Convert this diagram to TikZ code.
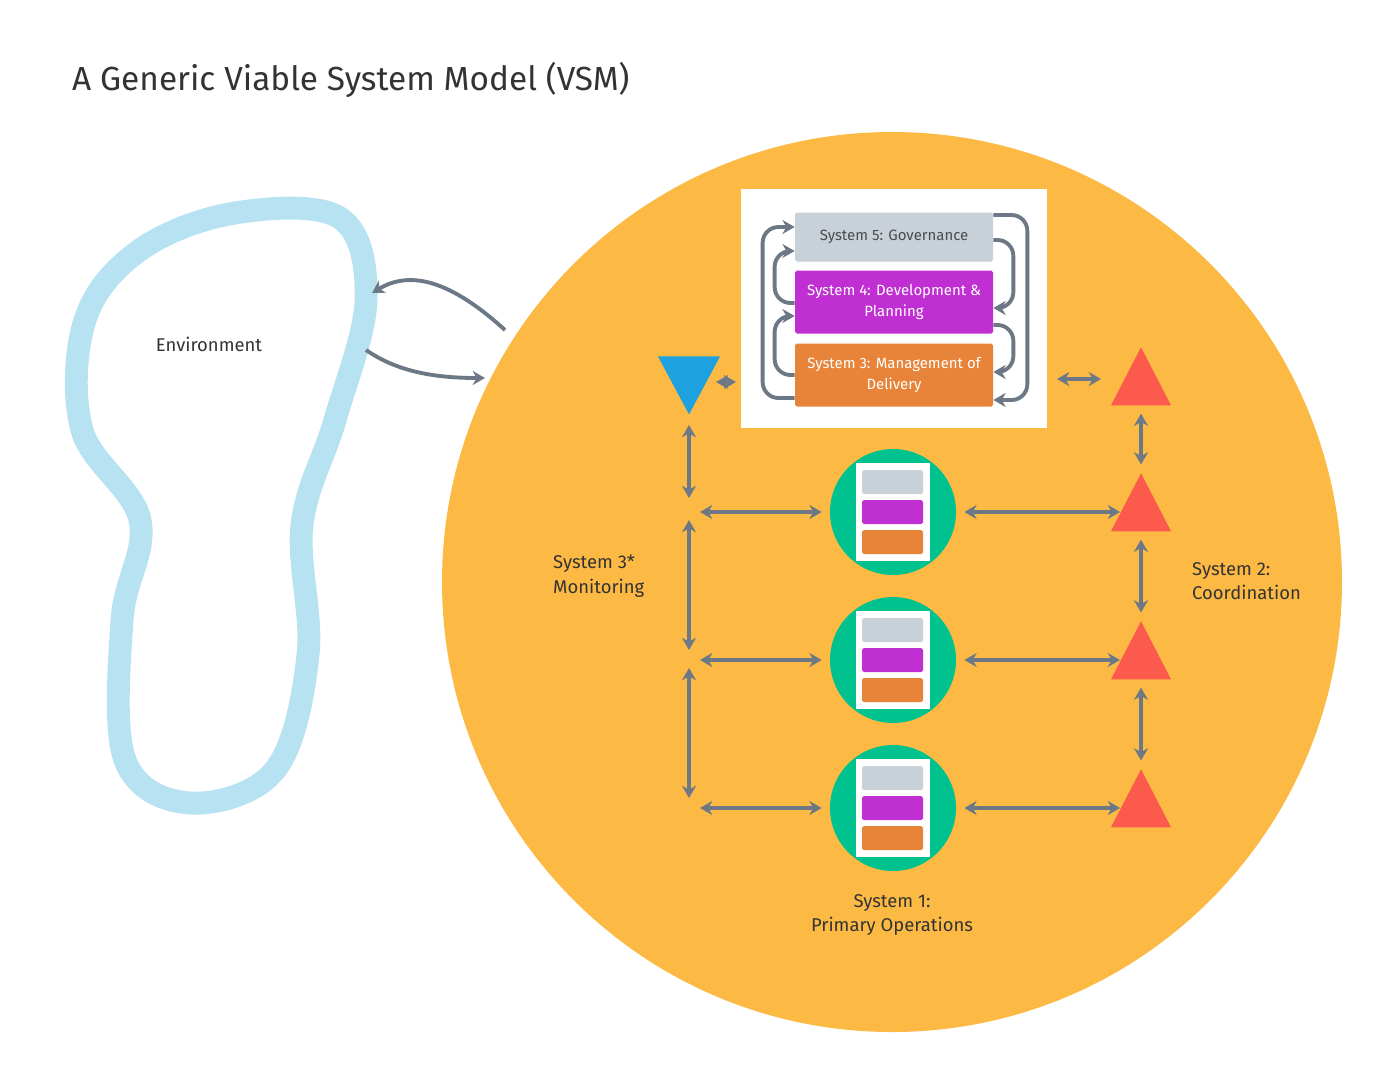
\documentclass[tikz,border=0pt]{standalone}
\usepackage{fontspec}
\setmainfont{Fira Sans}
\usetikzlibrary{arrows.meta,shapes.geometric,positioning}
\definecolor{vsmbg}{HTML}{FCB944}
\definecolor{sfive}{HTML}{C8D0D8}
\definecolor{sfour}{HTML}{C02FD2}
\definecolor{sthree}{HTML}{E8843A}
\definecolor{opgreen}{HTML}{00C28E}
\definecolor{coord}{HTML}{FD5A4E}
\definecolor{monit}{HTML}{1DA2DF}
\definecolor{link}{HTML}{6C7886}
\definecolor{envblue}{HTML}{B7E2F2}
\tikzset{
  link/.style={draw=link,line width=2.2pt,{Stealth[length=7pt,width=8pt]}-{Stealth[length=7pt,width=8pt]}},
  loop/.style={draw=link,line width=2.2pt,rounded corners=9pt,-{Stealth[length=7pt,width=8pt]}},
  sysbox/.style={minimum width=198*0.02cm,inner sep=0pt,align=center,font=\fontsize{8.5}{12}\selectfont,rounded corners=1pt},
  redtri/.style={fill=coord,isosceles triangle,shape border rotate=90,isosceles triangle apex angle=54,isosceles triangle stretches,minimum height=58*0.02cm,minimum width=60*0.02cm,inner sep=0pt},
  label/.style={font=\fontsize{10.5}{14}\selectfont,text=black!80,align=left}
}
\begin{document}
\begin{tikzpicture}[x=0.02cm,y=-0.02cm]
        % Frame
        \useasboundingbox[fill=white] (0,0) rectangle (1400,1090);

        % Title
        \node[anchor=west,font=\fontsize{19}{22}\selectfont,text=black!80] (title) at (66,80) {A Generic Viable System Model (VSM)};

        % Environment
        \draw[envblue,line width=13pt,smooth cycle,tension=0.6] plot coordinates {(235,213) (340,218) (366,300) (335,420) (302,525) (308,655) (275,770) (190,803) (125,760) (122,620) (140,520) (82,430) (85,320) (140,250)};
        \node[label] (env) at (209,344) {Environment};

        % System in focus
        \fill[vsmbg] (892,582) circle (450);

        % Environment links
        \coordinate (envin) at (372,293);
        \coordinate (envout) at (366,350);
        \coordinate (vsmout) at (505,330);
        \coordinate (vsmin) at (485,378);
        \draw[draw=link,line width=2.2pt,-{Stealth[length=7pt,width=8pt]}] (vsmout) .. controls (450,280) and (410,270) .. (envin);
        \draw[draw=link,line width=2.2pt,-{Stealth[length=7pt,width=8pt]}] (envout) .. controls (395,370) and (430,378) .. (vsmin);

        % Meta-system
        \fill[white] (741,189) rectangle (1047,428);
        \node[sysbox,fill=sfive,text=black!70,minimum height=49*0.02cm] (s5) at (894,237) {System 5: Governance};
        \node[sysbox,fill=sfour,text=white,minimum height=63*0.02cm] (s4) at (894,302) {System 4: Development \&\\Planning};
        \node[sysbox,fill=sthree,text=white,minimum height=63*0.02cm] (s3) at (894,375) {System 3: Management of\\Delivery};

        % Loops
        \draw[loop] ([yshift=-23*0.02cm]s3.west) -- ++(-32,0) |- ([yshift=10*0.02cm]s5.west);
        \draw[loop] ([yshift=-1*0.02cm]s4.west) -- ++(-20,0) |- ([yshift=-14*0.02cm]s5.west);
        \draw[loop] ([yshift=0*0.02cm]s3.west) -- ++(-20,0) |- ([yshift=-14*0.02cm]s4.west);
        \draw[loop] ([yshift=22*0.02cm]s5.east) -- ++(34,0) |- ([yshift=-25*0.02cm]s3.east);
        \draw[loop] ([yshift=-3*0.02cm]s5.east) -- ++(20,0) |- ([yshift=-6*0.02cm]s4.east);
        \draw[loop] ([yshift=-23*0.02cm]s4.east) -- ++(20,0) |- ([yshift=3*0.02cm]s3.east);

        % System 3* and System 2
        \node[fill=monit,isosceles triangle,shape border rotate=-90,isosceles triangle apex angle=54,isosceles triangle stretches,minimum height=58*0.02cm,minimum width=62*0.02cm,inner sep=0pt] (mon) at (689,375) {};
        \node[redtri] (c0) at (1141,387) {};
        \draw[link] (716,382) -- (736,382);
        \draw[link] (1057,379) -- (1101,379);

        % System 1 units
        \foreach \i/\y in {1/512,2/660,3/808}{
          \node[circle,fill=opgreen,minimum size=126*0.02cm] (op\i) at (893,\y) {};
          \fill[white] (856,\y-49) rectangle (930,\y+49);
          \fill[sfive,rounded corners=1pt] (862,\y-42) rectangle (923,\y-18);
          \fill[sfour,rounded corners=1pt] (862,\y-12) rectangle (923,\y+12);
          \fill[sthree,rounded corners=1pt] (862,\y+18) rectangle (923,\y+42);
          \node[redtri] (c\i) at (1141,\y+1) {};
          \coordinate (ml\i) at (700,\y);
          \draw[link,shorten >=8*0.02cm] (ml\i) -- (op\i);
          \draw[link,shorten <=8*0.02cm] (op\i) -- (c\i.west |- op\i);
        }
        \draw[link,shorten <=8*0.02cm,shorten >=8*0.02cm] (c0) -- (c1);
        \draw[link,shorten <=8*0.02cm,shorten >=8*0.02cm] (c1) -- (c2);
        \draw[link,shorten <=8*0.02cm,shorten >=8*0.02cm] (c2) -- (c3);
        \draw[link] (689,425) -- (689,498);
        \draw[link] (689,520) -- (689,650);
        \draw[link] (689,668) -- (689,798);

        % Labels
        \node[label,anchor=west] (mlab) at (547,576) {System 3*\\Monitoring};
        \node[label,anchor=west] (clab) at (1186,581) {System 2:\\Coordination};
        \node[label,align=center] (olab) at (892,915) {System 1:\\Primary Operations};
\end{tikzpicture}
\end{document}
